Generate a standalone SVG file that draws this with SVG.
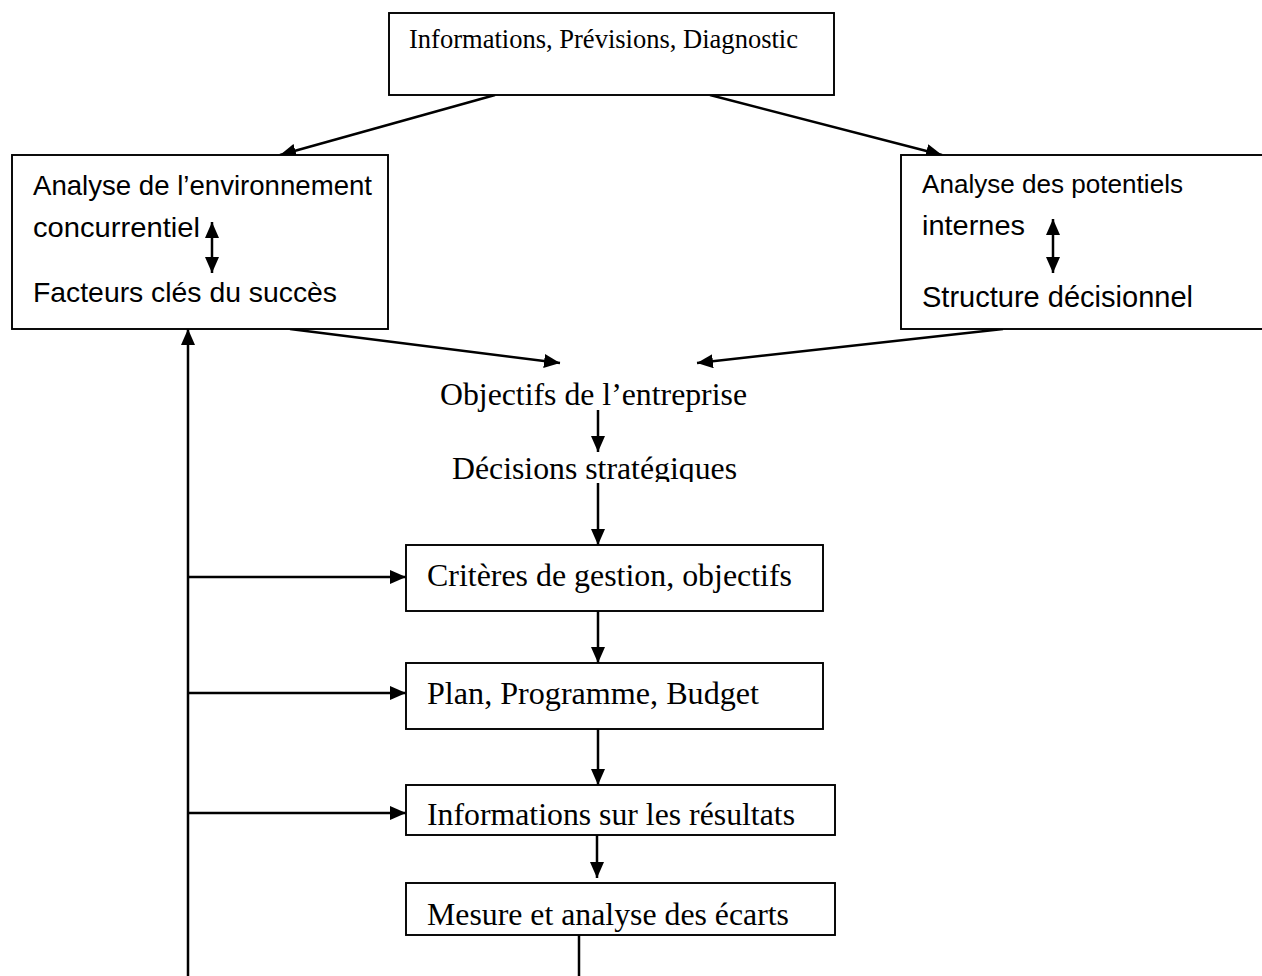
<svg xmlns="http://www.w3.org/2000/svg" width="1262" height="976" viewBox="0 0 1262 976">
<style>
.box{fill:#fff;stroke:#000;stroke-width:1.9}
.serif{font-family:"Liberation Serif","Times New Roman",serif;fill:#000}
.sans{font-family:"Liberation Sans",Arial,sans-serif;fill:#000}
.ln{stroke:#000;stroke-width:2.5;fill:none}
.arr{marker-end:url(#ah)}
.dbl{marker-start:url(#ah);marker-end:url(#ah)}
</style>
<defs>
<marker id="ah" viewBox="0 0 16 14" refX="16" refY="7" markerWidth="16" markerHeight="14" markerUnits="userSpaceOnUse" orient="auto-start-reverse">
<path d="M0,0 L16,7 L0,14 Z" fill="#000"/>
</marker>
<clipPath id="clipDec"><rect x="400" y="420" width="400" height="62"/></clipPath>
</defs>
<rect width="1262" height="976" fill="#fff"/>

<g id="connectors">
<line class="ln arr" x1="495" y1="95" x2="280" y2="155"/>
<line class="ln arr" x1="710" y1="95" x2="942" y2="155"/>
<line class="ln arr" x1="290" y1="329" x2="560" y2="363"/>
<line class="ln arr" x1="1003" y1="329" x2="697" y2="363"/>
<line class="ln arr" x1="598" y1="410" x2="598" y2="452"/>
<line class="ln arr" x1="598" y1="483" x2="598" y2="545"/>
<line class="ln arr" x1="598" y1="611" x2="598" y2="663"/>
<line class="ln arr" x1="598" y1="729" x2="598" y2="785"/>
<line class="ln arr" x1="597" y1="830" x2="597" y2="878"/>
<line class="ln" x1="579" y1="935" x2="579" y2="976" stroke-width="1.6"/>
<line class="ln arr" x1="188" y1="976" x2="188" y2="329"/>
<line class="ln arr" x1="188" y1="577" x2="406" y2="577"/>
<line class="ln arr" x1="188" y1="693" x2="406" y2="693"/>
<line class="ln arr" x1="188" y1="813" x2="406" y2="813"/>
</g>

<g id="top">
<rect class="box" x="389" y="13" width="445" height="82"/>
<text class="serif" x="409" y="48" font-size="26.5" textLength="389" lengthAdjust="spacingAndGlyphs">Informations, Prévisions, Diagnostic</text>
</g>

<g id="left">
<rect class="box" x="12" y="155" width="376" height="174"/>
<text class="sans" x="33" y="195" font-size="27.8" textLength="339" lengthAdjust="spacingAndGlyphs">Analyse de l’environnement</text>
<text class="sans" x="33" y="237" font-size="28.5" textLength="167" lengthAdjust="spacingAndGlyphs">concurrentiel</text>
<text class="sans" x="33" y="302" font-size="28.3" textLength="304" lengthAdjust="spacingAndGlyphs">Facteurs clés du succès</text>
<line class="ln dbl" x1="212" y1="222" x2="212" y2="273"/>
</g>

<g id="right">
<rect class="box" x="901" y="155" width="420" height="174"/>
<text class="sans" x="922" y="193" font-size="26" textLength="261" lengthAdjust="spacingAndGlyphs">Analyse des potentiels</text>
<text class="sans" x="922" y="235" font-size="28.5" textLength="103" lengthAdjust="spacingAndGlyphs">internes</text>
<text class="sans" x="922" y="307" font-size="28.8" textLength="271" lengthAdjust="spacingAndGlyphs">Structure décisionnel</text>
<line class="ln dbl" x1="1053" y1="219" x2="1053" y2="273"/>
</g>

<g id="objectifs">
<text class="serif" x="440" y="405" font-size="31.8" textLength="307" lengthAdjust="spacingAndGlyphs">Objectifs de l’entreprise</text>
</g>

<g id="decisions">
<text class="serif" x="452" y="479" font-size="31.8" textLength="285" lengthAdjust="spacingAndGlyphs" clip-path="url(#clipDec)">Décisions stratégiques</text>
</g>

<g id="criteres">
<rect class="box" x="406" y="545" width="417" height="66"/>
<text class="serif" x="427" y="586" font-size="31.8" textLength="365" lengthAdjust="spacingAndGlyphs">Critères de gestion, objectifs</text>
</g>

<g id="plan">
<rect class="box" x="406" y="663" width="417" height="66"/>
<text class="serif" x="427" y="704" font-size="31.8" textLength="332" lengthAdjust="spacingAndGlyphs">Plan, Programme, Budget</text>
</g>

<g id="resultats">
<rect class="box" x="406" y="785" width="429" height="50"/>
<text class="serif" x="427" y="825" font-size="31.8" textLength="368" lengthAdjust="spacingAndGlyphs">Informations sur les résultats</text>
</g>

<g id="ecarts">
<rect class="box" x="406" y="883" width="429" height="52"/>
<text class="serif" x="427" y="925" font-size="31.8" textLength="362" lengthAdjust="spacingAndGlyphs">Mesure et analyse des écarts</text>
</g>
</svg>
